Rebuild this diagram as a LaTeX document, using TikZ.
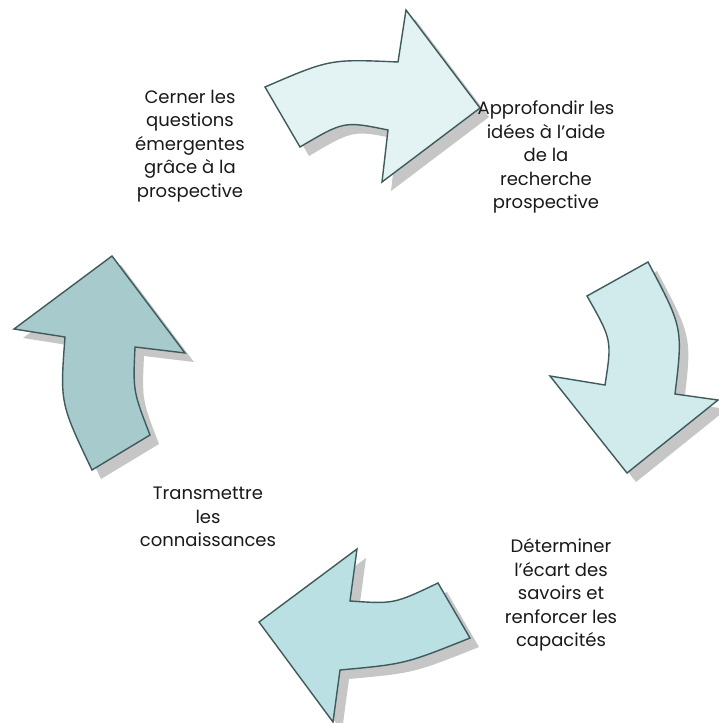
\documentclass[tikz,border=0pt]{standalone}
\usepackage{fontspec}
\setmainfont{Poppins}
\usetikzlibrary{positioning}

\definecolor{edgeslate}{HTML}{3F5A5A}
\definecolor{shadowgrey}{HTML}{C6C6C6}
\definecolor{fillA}{HTML}{E3F3F4}
\definecolor{fillB}{HTML}{D1EBEC}
\definecolor{fillC}{HTML}{BBE0E3}
\definecolor{fillD}{HTML}{A7CACD}

\begin{document}
\begin{tikzpicture}[x=1pt, y=-1pt,
    cyclearrow/.style={draw=edgeslate, line width=1.4pt, line join=miter,
        preaction={fill=shadowgrey, transform canvas={shift={(9pt,-9pt)}}}},
    phase/.style={align=center, text=black!90, font=\fontsize{18}{23.5}\selectfont}]
\useasboundingbox (0,0) rectangle (719,723);

% the four arrows of the cycle
\draw[cyclearrow, fill=fillA] (265,87) .. controls (330,59) .. (398,62) -- (406,10) -- (480,108)
    -- (382,182) -- (388,130) .. controls (344,121) .. (300,147) -- cycle;
\draw[cyclearrow, fill=fillB] (587,296) -- (648,262) .. controls (683,328) .. (675,394) -- (718,400)
    -- (627,473) -- (550,376) -- (605,385) .. controls (612,340) .. (587,296) -- cycle;
\draw[cyclearrow, fill=fillC] (438,583) -- (470,638) .. controls (405,664) .. (340,670) -- (333,722)
    -- (259,622) -- (357,549) -- (350,601) .. controls (394,604) .. (438,583) -- cycle;
\draw[cyclearrow, fill=fillD] (92,470) -- (150,435) .. controls (133,391) .. (135,347) -- (185,353)
    -- (112,256) -- (14,329) -- (65,337) .. controls (60,403) .. (92,470) -- cycle;

% labels
\node[phase] (cerner) at (190,146) {Cerner les\\questions\\émergentes\\grâce à la\\prospective};
\node[phase] (approfondir) at (546,157) {Approfondir les\\idées à l’aide\\de la\\recherche\\prospective};
\node[phase] (determiner) at (561,595) {Déterminer\\l’écart des\\savoirs et\\renforcer les\\capacités};
\node[phase] (transmettre) at (208,517) {Transmettre\\les\\connaissances};

\end{tikzpicture}
\end{document}
